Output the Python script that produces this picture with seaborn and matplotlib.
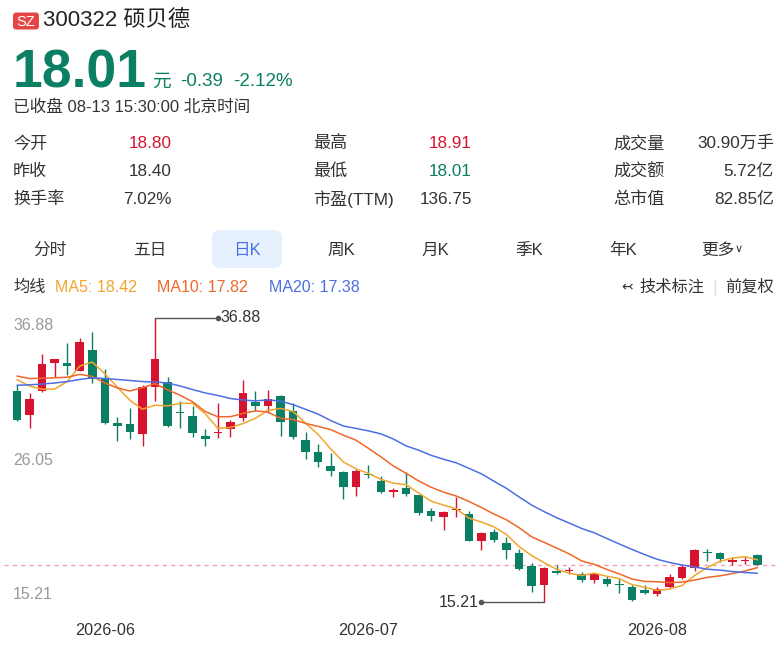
import numpy as np
import pandas as pd
import matplotlib
matplotlib.use("Agg")
import matplotlib.pyplot as plt
from matplotlib.patches import FancyBboxPatch
import seaborn as sns

# ---------------- data ----------------
month_labels = ["2026-06", "2026-07", "2026-08"]
month_idx = [7, 28, 51]

opens = [31.33, 29.48, 31.33, 33.47, 33.42, 32.86, 34.41, 32.33, 28.84, 28.79,
         28.03, 31.64, 32.00, 29.73, 29.40, 27.88, 28.08, 28.39, 29.27, 30.49,
         30.19, 30.95, 29.81, 27.57, 26.68, 25.59, 25.15, 24.01, 24.98, 24.44,
         23.63, 23.93, 23.37, 22.15, 21.67, 22.23, 21.93, 19.89, 20.53, 19.69,
         18.93, 17.96, 16.51, 17.58, 17.55, 17.35, 16.89, 16.94, 16.55, 16.33,
         16.13, 15.82, 16.33, 17.02, 17.83, 18.98, 18.97, 18.29, 18.32, 18.80]
closes = [29.10, 30.70, 33.39, 33.73, 33.22, 35.02, 32.23, 28.89, 28.66, 28.18,
          31.64, 33.75, 28.64, 29.65, 28.13, 27.67, 28.21, 28.97, 31.13, 30.17,
          30.70, 28.92, 27.82, 26.63, 25.87, 25.21, 23.96, 25.21, 24.90, 23.58,
          23.70, 23.43, 22.02, 21.77, 22.10, 22.30, 19.89, 20.50, 19.94, 19.18,
          17.71, 16.45, 17.78, 17.40, 17.65, 16.89, 17.35, 16.58, 16.50, 15.36,
          15.87, 16.18, 17.10, 17.86, 19.18, 18.93, 18.47, 18.36, 18.40, 18.01]
highs = [31.77, 31.13, 34.13, 33.75, 35.00, 35.33, 35.79, 32.96, 29.35, 29.99,
         31.74, 36.88, 32.40, 30.57, 30.17, 28.39, 30.37, 29.10, 32.15, 31.31,
         31.39, 31.00, 30.37, 28.16, 27.27, 26.60, 25.20, 25.38, 25.66, 24.82,
         23.89, 25.15, 23.40, 22.36, 22.15, 23.24, 22.18, 20.57, 20.78, 20.19,
         19.23, 18.16, 17.86, 18.03, 17.90, 17.52, 17.40, 17.19, 16.94, 16.51,
         16.51, 16.33, 17.33, 18.03, 19.26, 19.23, 19.05, 18.62, 18.67, 18.91]
lows = [29.02, 28.51, 31.26, 32.40, 32.53, 32.80, 31.94, 28.79, 27.49, 27.67,
        27.14, 30.57, 28.54, 28.51, 27.82, 27.11, 27.75, 27.82, 29.04, 29.81,
        29.61, 27.90, 27.62, 26.10, 25.53, 24.82, 23.05, 23.30, 24.65, 23.50,
        23.20, 23.32, 21.85, 21.39, 20.70, 21.72, 19.85, 19.18, 19.81, 18.49,
        17.65, 15.95, 15.21, 17.33, 17.33, 16.76, 16.68, 16.45, 15.87, 15.25,
        15.82, 15.69, 16.26, 16.98, 17.60, 18.34, 18.29, 18.03, 18.11, 18.01]

ma5_head = [32.18, 31.69, 31.44, 31.46]
ma10_head = [32.45, 32.26, 32.28, 32.32, 32.36, 32.58, 32.42, 31.92, 31.54]
ma20_head = [31.75, 31.78, 31.84, 31.92, 32.03, 32.19, 32.32, 32.26, 32.19, 32.11,
             32.03, 32.00, 31.92, 31.69, 31.42, 31.16, 30.97, 30.74, 30.62]

ma_legend = ["MA5: 18.42", "MA10: 17.82", "MA20: 17.38"]

header_code = "300322 硕贝德"
price_text = "18.01"
change_texts = ["元", "-0.39", "-2.12%"]
status_text = "已收盘 08-13 15:30:00 北京时间"
table_rows = [
    [("今开", "18.80", "up"), ("最高", "18.91", "up"), ("成交量", "30.90万手", "n")],
    [("昨收", "18.40", "n"), ("最低", "18.01", "down"), ("成交额", "5.72亿", "n")],
    [("换手率", "7.02%", "n"), ("市盈(TTM)", "136.75", "n"), ("总市值", "82.85亿", "n")],
]
tabs = ["分时", "五日", "日K", "周K", "月K", "季K", "年K", "更多"]

# ---------------- style ----------------
sns.set_theme(style="white")
plt.rcParams['font.family'] = ['Liberation Sans', 'Noto Sans CJK SC', 'DejaVu Sans']
plt.rcParams['axes.unicode_minus'] = False

RED = "#d7142f"
GREEN = "#0a7f63"
DARK = "#333333"
GRAY = "#999999"
MA_COLORS = {"MA5": "#f2a52b", "MA10": "#f0672a", "MA20": "#4c6fe3"}
BLUE_TXT = "#4b6ee8"

W, H = 782, 658
fig = plt.figure(figsize=(W / 100, H / 100), dpi=100)
fig.patch.set_facecolor("white")

# overlay in pixel coordinates for header texts
ov = fig.add_axes([0, 0, 1, 1], zorder=0)
ov.set_xlim(0, W)
ov.set_ylim(H, 0)
ov.axis("off")

# SZ badge
ov.add_patch(FancyBboxPatch((13, 12.5), 26, 17, boxstyle="round,pad=0,rounding_size=3",
                            fc="#e64545", ec="none"))
ov.text(26, 21.5, "SZ", color="white", fontsize=10.5, ha="center", va="center")
ov.text(43, 21, header_code, color="#222222", fontsize=16, ha="left", va="center")

ov.text(13, 87.5, price_text, color=GREEN, fontsize=38.5, fontweight="bold",
        ha="left", va="baseline")
for xp, t in zip([152, 180, 233], change_texts):
    ov.text(xp, 86.5, t, color=GREEN, fontsize=13.5, ha="left", va="baseline")
ov.text(13, 107, status_text, color=DARK, fontsize=12, ha="left", va="center")

# quote table
label_x = [13, 313, 613]
value_x = [172, 472, 774]
row_y = [143.5, 171.5, 199.5]
for r, row in enumerate(table_rows):
    for ccol, (lab, val, kind) in enumerate(row):
        vc = RED if kind == "up" else (GREEN if kind == "down" else DARK)
        ov.text(label_x[ccol], row_y[r], lab, color=DARK, fontsize=12.3, ha="left", va="center")
        ov.text(value_x[ccol], row_y[r], val, color=vc, fontsize=12.3, ha="right", va="center")

# tabs
ov.add_patch(FancyBboxPatch((212, 230), 70, 38, boxstyle="round,pad=0,rounding_size=8",
                            fc="#e7f0fd", ec="none"))
tab_x = [50, 150, 247, 341, 435, 529, 623, 718]
for t, xp in zip(tabs, tab_x):
    ov.text(xp, 250, t, color=BLUE_TXT if t == "日K" else DARK, fontsize=12,
            ha="center", va="center")
ov.text(739, 249, "∨", color=DARK, fontsize=8, ha="center", va="center",
        family=['DejaVu Sans'])

# MA legend
ov.text(13, 287, "均线", color=DARK, fontsize=11.7, ha="left", va="center")
for xp, t, k in zip([55, 157, 269], ma_legend, ["MA5", "MA10", "MA20"]):
    ov.text(xp, 287, t, color=MA_COLORS[k], fontsize=11.5, ha="left", va="center")
ov.text(627, 287, "↢", color=DARK, fontsize=10, ha="center", va="center",
        family=['DejaVu Sans'])
ov.text(639, 287, "技术标注", color=DARK, fontsize=11.7, ha="left", va="center")
ov.plot([715, 715], [280, 295], color="#dddddd", lw=1)
ov.text(725, 287, "前复权", color=DARK, fontsize=11.7, ha="left", va="center")

# ---------------- candlestick chart ----------------
ax_left, ax_right, ax_top, ax_bot = 4, 778, 305, 612
ax = fig.add_axes([ax_left / W, 1 - ax_bot / H, (ax_right - ax_left) / W, (ax_bot - ax_top) / H],
                  zorder=1)
ax.patch.set_alpha(0)
step, x0px = 12.55, 17.0
ax.set_xlim((ax_left - x0px) / step, (ax_right - x0px) / step)
def price_at(ypx):
    return 36.88 - (ypx - 318) / 13.106
ax.set_ylim(price_at(ax_bot), price_at(ax_top))

o = np.array(opens); c = np.array(closes)
hi_arr = np.array(highs); lo_arr = np.array(lows)
xi = np.arange(len(c))
up = c >= o
cols = np.where(up, RED, GREEN)

# current price dashed line
ax.axhline(c[-1], color="#f3a3ac", lw=1, ls=(0, (3, 3)), zorder=1)

ax.vlines(xi, lo_arr, hi_arr, colors=cols, lw=1.0, zorder=2)
body_bottom = np.minimum(o, c)
body_h = np.maximum(np.abs(c - o), 0.09)
ax.bar(xi, body_h, bottom=body_bottom, width=0.68, color=cols, linewidth=0, zorder=3)

# moving averages
s = pd.Series(c)
def moving(n, head):
    m = s.rolling(n).mean().to_numpy()
    m[:len(head)] = head
    return m
df = pd.DataFrame({"i": xi, "MA5": moving(5, ma5_head), "MA10": moving(10, ma10_head),
                   "MA20": moving(20, ma20_head)})
long = df.melt(id_vars="i", var_name="ma", value_name="v")
sns.lineplot(data=long, x="i", y="v", hue="ma", palette=MA_COLORS, linewidth=1.1,
             legend=False, ax=ax, zorder=4, estimator=None)

# high / low markers
ih = int(np.argmax(hi_arr)); hv = hi_arr[ih]
ax.plot([ih, ih + 5.0], [hv, hv], color="#555555", lw=1, zorder=5)
ax.plot([ih + 5.0], [hv], "o", ms=3, color="#555555", zorder=5)
ax.text(ih + 5.2, hv, f"{hv:.2f}", color=DARK, fontsize=11.5, ha="left", va="center")
il = int(np.argmin(lo_arr)); lv = lo_arr[il]
ax.plot([il - 5.0, il], [lv, lv], color="#555555", lw=1, zorder=5)
ax.plot([il - 5.0], [lv], "o", ms=3, color="#555555", zorder=5)
ax.text(il - 5.25, lv, f"{lv:.2f}", color=DARK, fontsize=11.5, ha="right", va="center")

# left range labels
lab_x = (13 - x0px) / step
mid = (hv + lv) / 2
ax.text(lab_x, hv, f"{hv:.2f}", color=GRAY, fontsize=11.5, ha="left", va="top")
ax.text(lab_x, mid, f"{mid:.2f}", color=GRAY, fontsize=11.5, ha="left", va="center")
ax.text(lab_x, lv, f"{lv:.2f}", color=GRAY, fontsize=11.5, ha="left", va="bottom")

ax.set_xticks(month_idx)
ax.set_xticklabels(month_labels)
ax.tick_params(axis="x", length=0, pad=8, labelsize=11.7, labelcolor=DARK)
ax.set_yticks([])
ax.set_xlabel("")
ax.set_ylabel("")
for sp in ax.spines.values():
    sp.set_visible(False)
ax.grid(False)

fig.savefig("out.png", dpi=100, facecolor="white")
